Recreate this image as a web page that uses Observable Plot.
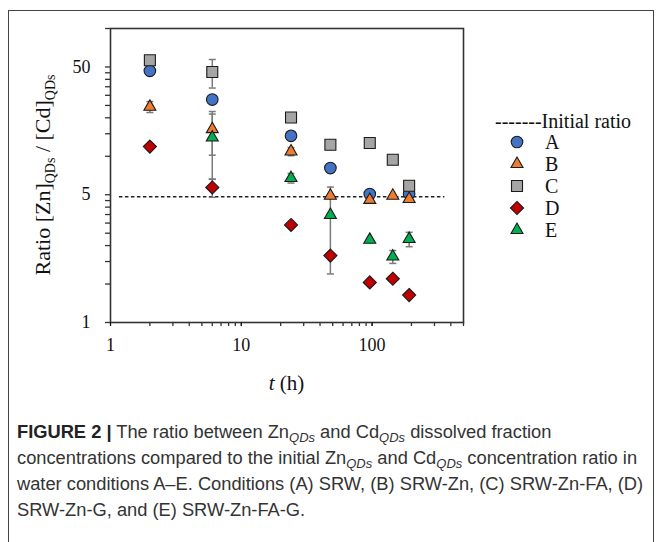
<!DOCTYPE html>
<html><head><meta charset="utf-8">
<script src="https://cdn.jsdelivr.net/npm/d3@7"></script>
<script src="https://cdn.jsdelivr.net/npm/@observablehq/plot@0.6"></script>
<style>
body{margin:0;background:#fff;}
#wrap{position:relative;width:662px;height:542px;overflow:hidden;background:#fff;}
#frame{position:absolute;left:8px;top:10px;width:646px;height:540px;border:1.5px solid #444;border-bottom:none;box-sizing:border-box;}
#chart{position:absolute;left:0;top:0;}
#caption{position:absolute;left:17px;top:419px;font-family:"Liberation Sans",Arial,sans-serif;font-size:18.3px;line-height:26px;color:#333;white-space:nowrap;}
#caption b{font-weight:bold;color:#222}
#caption sub{font-style:italic;font-size:13px;vertical-align:-4px;line-height:0}
</style></head>
<body><div id="wrap"><div id="frame"></div><div id="chart"></div>
<div id="caption"><b>FIGURE 2 |</b> The ratio between Zn<sub>QDs</sub> and Cd<sub>QDs</sub> dissolved fraction<br>concentrations compared to the initial Zn<sub>QDs</sub> and Cd<sub>QDs</sub> concentration ratio in<br>water conditions A–E. Conditions (A) SRW, (B) SRW-Zn, (C) SRW-Zn-FA, (D)<br>SRW-Zn-G, and (E) SRW-Zn-FA-G.</div>
</div>
<script>
// ---- data ----
const times = [2, 6, 24, 48, 96, 144, 192];
const seriesNames = ["A", "B", "C", "D", "E"];
const valuesA = [46.6, 27.8, 14.45, 8.09, 5.06, null, 5.1];
const valuesB = [24.4, 16.3, 10.9, 4.91, 4.55, 4.91, 4.63];
const valuesC = [56.4, 45.7, 20.1, 12.3, 12.7, 9.4, 5.88];
const valuesD = [11.9, 5.70, 2.90, 1.67, 1.03, 1.10, 0.82];
const valuesE = [null, 14.0, 6.75, 3.47, 2.22, 1.64, 2.25];
const errorsA = [0, 0, 0, 0, 0, null, 0];
const errorsB = [2.4, 6.1, 0.8, 0, 0, 0, 0];
const errorsC = [0, 11.5, 0, 0, 0, 0, 0];
const errorsD = [0, 0.93, 0, 0, 0, 0, 0];
const errorsE = [null, 7.4, 0.58, 2.27, 0, 0.19, 0.29];
const initialRatio = 4.82;
const initialRatioSpan = [1.17, 360];
const xTickValues = [1, 10, 100];
const xTickLabels = ["1", "10", "100"];
const yTickValues = [0.5, 5, 50];
const yTickLabels = ["1", "5", "50"];

// ---- styles ----
const seriesColors = ["#4472C4", "#ED7D31", "#A5A5A5", "#C00000", "#00B050"];
const seriesSymbols = ["circle", "triangle", "square", "diamond2", "triangle"];
const seriesR = [5.8, 4.45, 6.2, 5.9, 4.45];

const allValues = [valuesA, valuesB, valuesC, valuesD, valuesE];
const allErrors = [errorsA, errorsB, errorsC, errorsD, errorsE];
const rows = [];
seriesNames.forEach((s, i) => times.forEach((t, j) => {
  const v = allValues[i][j];
  if (v != null) rows.push({series: s, idx: i, t, v, e: allErrors[i][j] || 0});
}));
const errRows = rows.filter(d => d.e > 0);
const capRows = errRows.flatMap(d => [{t: d.t, y: d.v - d.e}, {t: d.t, y: d.v + d.e}]);

const capSymbol = {draw(ctx, size) { const w = Math.sqrt(size / Math.PI); ctx.moveTo(-w, 0); ctx.lineTo(w, 0); }};

const xMinor = [], yMinor = [];
for (const k of [1, 10, 100]) for (let m = 1; m <= 9; m++) if (m * k <= 500) xMinor.push(m * k);
for (const k of [0.5, 5]) for (let m = 1; m <= 9; m++) yMinor.push(k * m);
yMinor.push(50, 100);

const marks = [
  Plot.ruleY([initialRatio], {x1: initialRatioSpan[0], x2: initialRatioSpan[1], stroke: "#222", strokeWidth: 1.4, strokeDasharray: "3.5,2.5"}),
  Plot.ruleX(errRows, {x: "t", y1: d => d.v - d.e, y2: d => d.v + d.e, stroke: "#7a7a7a", strokeWidth: 1.5}),
  Plot.dot(capRows, {x: "t", y: "y", symbol: capSymbol, r: 3.5, stroke: "#7a7a7a", strokeWidth: 1.5, fill: "none"}),
  ...seriesNames.map((s, i) => Plot.dot(rows.filter(d => d.series === s), {x: "t", y: "v", symbol: seriesSymbols[i], r: seriesR[i], fill: seriesColors[i], stroke: "#1a1a1a", strokeWidth: 1.1})),
  Plot.frame({stroke: "#333", strokeWidth: 1.6}),
  Plot.axisX(xMinor, {tickSize: 4, tickFormat: () => "", label: null, stroke: "#333", strokeWidth: 1.3}),
  Plot.axisX(xTickValues, {tickSize: 4, tickPadding: 12, tickFormat: d => xTickLabels[xTickValues.indexOf(d)], label: null, fontSize: 18, fill: "#111"}),
  Plot.axisY(yMinor, {tickSize: 5, tickFormat: () => "", label: null, stroke: "#333", strokeWidth: 1.3}),
  Plot.text(yTickValues, {y: d => d, text: (d, i) => yTickLabels[i], frameAnchor: "left", dx: -20, textAnchor: "end", fontSize: 18, fill: "#111"})
];

const plot = Plot.plot({
  width: 662, height: 400,
  marginLeft: 110, marginRight: 199, marginTop: 28, marginBottom: 78,
  style: {fontFamily: "'Liberation Serif', 'Times New Roman', serif", fontSize: "18px", color: "#111", background: "transparent"},
  x: {type: "log", domain: [1, 500]},
  y: {type: "log", domain: [0.5, 100]},
  marks
});
document.getElementById("chart").appendChild(plot);

const svg = d3.select(plot);
const serif = "'Liberation Serif', 'Times New Roman', serif";
// y label
const yl = svg.append("text").attr("transform", "translate(50,175) rotate(-90)").attr("text-anchor", "middle")
  .style("font-family", serif).style("font-size", "22px").attr("fill", "#111");
yl.append("tspan").text("Ratio [Zn]");
yl.append("tspan").attr("dy", 5).style("font-size", "14px").text("QDs");
yl.append("tspan").attr("dy", -5).text(" / [Cd]");
yl.append("tspan").attr("dy", 5).style("font-size", "14px").text("QDs");
// x label
const xl = svg.append("text").attr("x", 286.5).attr("y", 390).attr("text-anchor", "middle")
  .style("font-family", serif).style("font-size", "21px").attr("fill", "#111");
xl.append("tspan").style("font-style", "italic").text("t");
xl.append("tspan").text(" (h)");
// legend
const lg = svg.append("g").style("font-family", serif).style("font-size", "20px").attr("fill", "#111").attr("text-anchor", "start");
lg.append("text").attr("x", 495).attr("y", 128).attr("text-anchor", "start").text("-------Initial ratio");
const d3Sym = {circle: d3.symbolCircle, triangle: d3.symbolTriangle, square: d3.symbolSquare, diamond2: d3.symbolDiamond2};
seriesNames.forEach((s, i) => {
  const cy = 142 + i * 22;
  lg.append("path").attr("transform", `translate(517,${cy})`)
    .attr("d", d3.symbol(d3Sym[seriesSymbols[i]], seriesR[i] * seriesR[i] * Math.PI)())
    .attr("fill", seriesColors[i]).attr("stroke", "#1a1a1a").attr("stroke-width", 1.1);
  lg.append("text").attr("x", 545).attr("y", cy + 7).attr("text-anchor", "start").text(s);
});
</script>
</body></html>
